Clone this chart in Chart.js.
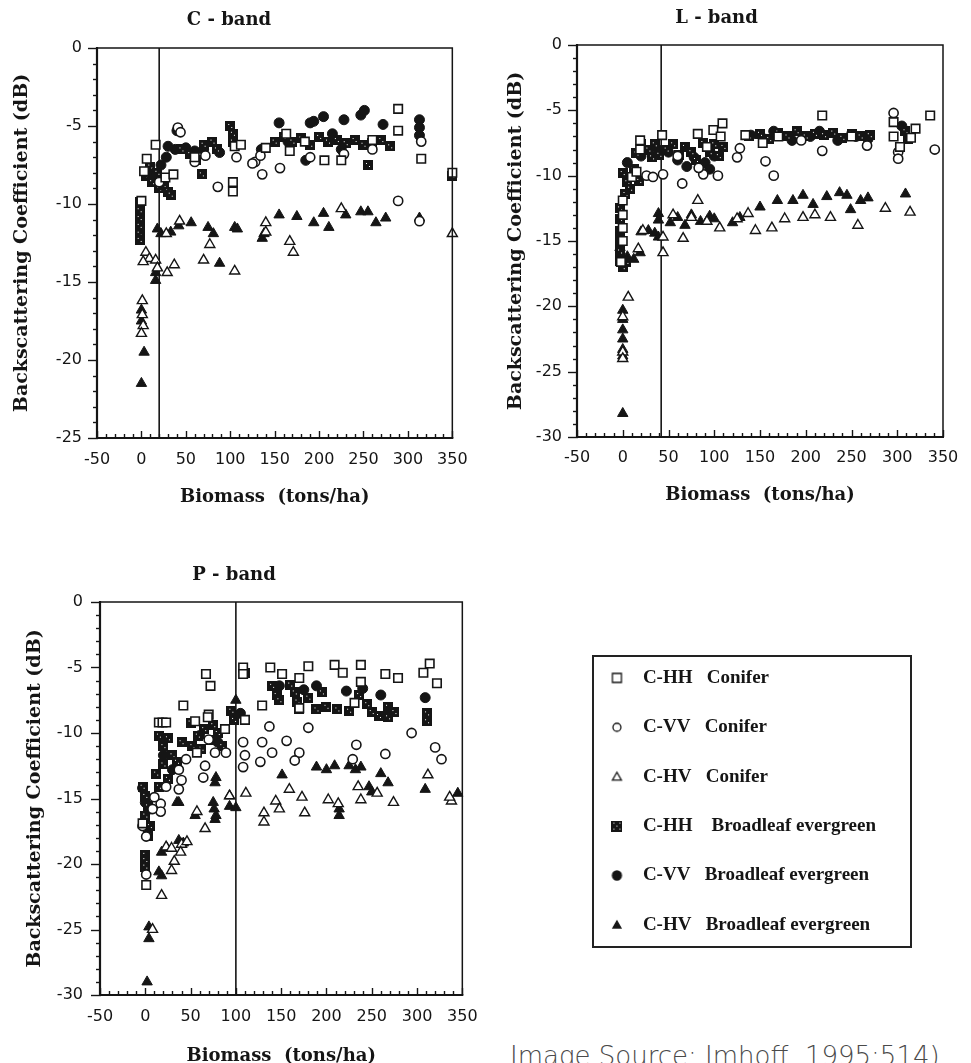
<!DOCTYPE html>
<html><head><meta charset="utf-8">
<script src="https://cdn.jsdelivr.net/npm/chart.js@4.4.1/dist/chart.umd.min.js"></script>
<style>
html,body{margin:0;padding:0;background:#fff}
body{width:971px;height:1063px;overflow:hidden;position:relative}
canvas{position:absolute;display:block}
#legendBox{position:absolute;left:592px;top:655px;width:320px;height:293px;border:2px solid #222;box-sizing:border-box}
#source{position:absolute;left:510px;top:1043px;font-family:"DejaVu Sans";font-weight:200;font-size:26px;line-height:26px;color:#4a4a4a;white-space:nowrap}
</style></head><body>
<canvas id="cBand" width="480" height="520" style="left:0;top:0"></canvas>
<canvas id="lBand" width="481" height="520" style="left:490px;top:0"></canvas>
<canvas id="pBand" width="490" height="530" style="left:0;top:545px"></canvas>
<div id="legendBox"></div>
<canvas id="legend" width="800" height="340" style="left:570px;top:638px"></canvas>
<div id="source">Image Source: Imhoff, 1995:514)</div>
<script>
const INK = '#151515';

// ---- tick labels / categories ----
const xTicks = [-50, 0, 50, 100, 150, 200, 250, 300, 350];
const yTicksC = [-25, -20, -15, -10, -5, 0];
const yTicksLP = [-30, -25, -20, -15, -10, -5, 0];
const bandTitles = ['C - band', 'L - band', 'P - band'];
const seriesLabels = ['C-HH Conifer', 'C-VV Conifer', 'C-HV Conifer', 'C-HH Broadleaf evergreen', 'C-VV Broadleaf evergreen', 'C-HV Broadleaf evergreen'];
const legendTexts = ['C-HH   Conifer', 'C-VV   Conifer', 'C-HV   Conifer', 'C-HH    Broadleaf evergreen', 'C-VV   Broadleaf evergreen', 'C-HV   Broadleaf evergreen'];
const thresholds = [20, 42, 100];

// ---- C-band series [biomass, dB] ----
const cBandHHConifer = [[6,-7.1],[16,-6.2],[3,-7.9],[27,-8.3],[36,-8.1],[0,-9.8],[103,-8.6],[103,-9.2],[105,-6.3],[112,-6.2],[163,-5.5],[167,-6.6],[206,-7.2],[225,-7.2],[289,-3.9],[289,-5.3],[315,-7.1],[350,-8.0],[140,-6.4],[60,-7.0],[184,-6.0],[260,-5.9]];
const cBandVVConifer = [[41,-5.1],[44,-5.4],[72,-6.9],[86,-8.9],[107,-7.0],[128,-7.3],[134,-6.9],[136,-8.1],[125,-7.4],[156,-7.7],[228,-6.8],[190,-7.0],[289,-9.8],[315,-6.0],[313,-11.1],[20,-8.6],[260,-6.5],[60,-7.3]];
const cBandHVConifer = [[1,-16.2],[1,-17.1],[2,-17.8],[0,-18.3],[5,-13.1],[9,-13.5],[16,-13.6],[18,-14.1],[29,-14.4],[37,-13.9],[43,-11.1],[70,-13.6],[77,-12.6],[105,-14.3],[140,-11.2],[140,-11.8],[167,-12.4],[171,-13.1],[225,-10.3],[350,-11.9],[2,-13.7],[28,-11.9]];
const cBandHHBroadleaf = [[-2,-9.9],[-2,-10.4],[-2,-10.9],[-2,-11.4],[-2,-11.9],[-2,-12.3],[5,-8.2],[10,-7.6],[12,-8.6],[18,-8.0],[20,-9.0],[25,-8.8],[30,-9.2],[33,-9.4],[45,-6.5],[55,-6.8],[62,-7.2],[70,-6.2],[80,-6.0],[85,-6.5],[68,-8.1],[100,-5.0],[103,-5.5],[103,-6.0],[150,-6.0],[160,-5.7],[170,-6.0],[180,-5.8],[190,-6.2],[200,-5.7],[210,-6.0],[220,-5.9],[230,-6.1],[240,-5.9],[250,-6.2],[260,-6.1],[270,-5.9],[280,-6.3],[255,-7.5],[350,-8.2]];
const cBandVVBroadleaf = [[8,-8.0],[15,-8.3],[22,-7.5],[28,-7.0],[40,-5.3],[38,-6.5],[50,-6.4],[60,-6.6],[70,-6.5],[88,-6.7],[135,-6.5],[155,-4.8],[190,-4.8],[194,-4.7],[205,-4.4],[228,-4.6],[247,-4.3],[251,-4.0],[272,-4.9],[313,-4.6],[313,-5.1],[313,-5.6],[165,-6.0],[215,-5.5],[185,-7.2],[225,-6.5],[30,-6.3]];
const cBandHVBroadleaf = [[0,-16.8],[0,-17.5],[3,-19.5],[0,-21.5],[16,-14.4],[16,-14.9],[18,-11.6],[22,-11.9],[33,-11.8],[42,-11.4],[56,-11.2],[75,-11.5],[81,-11.9],[88,-13.8],[105,-11.5],[108,-11.6],[136,-12.2],[138,-11.9],[155,-10.7],[175,-10.8],[194,-11.2],[205,-10.6],[211,-11.5],[230,-10.7],[247,-10.5],[255,-10.5],[264,-11.2],[275,-10.9],[313,-10.9]];

// ---- L-band series ----
const lBandHHConifer = [[0,-11.9],[0,-13.0],[0,-14.0],[0,-15.0],[-2,-16.6],[19,-7.3],[10,-10.1],[15,-9.7],[19,-8.0],[43,-6.9],[82,-6.8],[99,-6.5],[109,-6.0],[107,-7.0],[134,-6.9],[153,-7.5],[218,-5.4],[296,-5.9],[296,-7.0],[303,-7.8],[320,-6.4],[315,-7.1],[336,-5.4],[92,-7.8],[170,-7.0],[250,-7.0]];
const lBandVVConifer = [[26,-10.0],[33,-10.1],[44,-9.9],[65,-10.6],[88,-9.9],[83,-9.4],[104,-10.0],[125,-8.6],[128,-7.9],[156,-8.9],[165,-10.0],[218,-8.1],[267,-7.7],[296,-5.2],[301,-8.2],[301,-8.7],[341,-8.0],[60,-8.5],[195,-7.3]];
const lBandHVConifer = [[22,-14.2],[44,-14.7],[44,-15.9],[82,-11.9],[66,-14.8],[106,-14.0],[125,-13.3],[137,-12.9],[145,-14.2],[163,-14.0],[177,-13.3],[197,-13.2],[210,-13.0],[227,-13.2],[257,-13.8],[287,-12.5],[314,-12.8],[6,-19.3],[0,-20.8],[0,-23.5],[0,-24.0],[17,-15.6],[75,-13.2],[92,-13.5],[55,-13.0]];
const lBandHHBroadleaf = [[-3,-12.5],[-3,-13.3],[-3,-14.2],[-3,-15.0],[-3,-15.8],[-3,-16.5],[0,-17.0],[4,-16.6],[0,-9.8],[5,-10.5],[8,-11.0],[12,-9.5],[18,-10.4],[3,-11.4],[15,-8.3],[20,-7.6],[28,-8.0],[35,-7.6],[40,-8.4],[32,-8.6],[48,-8.0],[55,-7.6],[62,-8.4],[68,-7.8],[75,-8.2],[80,-8.8],[88,-7.5],[95,-8.2],[100,-7.6],[105,-8.5],[110,-7.8],[138,-7.0],[150,-6.8],[160,-7.2],[170,-6.7],[180,-7.0],[190,-6.6],[200,-7.0],[210,-6.8],[220,-6.9],[230,-6.7],[240,-7.1],[250,-6.8],[260,-7.0],[270,-6.9],[309,-6.6],[312,-7.2]];
const lBandVVBroadleaf = [[5,-9.0],[20,-8.5],[38,-8.0],[50,-8.2],[60,-8.8],[70,-9.3],[78,-8.6],[90,-9.0],[95,-9.5],[100,-8.5],[140,-6.9],[155,-7.2],[165,-6.6],[185,-7.3],[205,-7.0],[215,-6.6],[235,-7.3],[255,-7.0],[268,-7.2],[305,-6.2]];
const lBandHVBroadleaf = [[0,-20.3],[0,-21.0],[0,-21.8],[0,-22.5],[0,-23.3],[0,-23.8],[0,-28.2],[-3,-15.5],[5,-16.2],[12,-16.4],[19,-15.9],[20,-14.3],[28,-14.2],[35,-14.4],[39,-12.9],[39,-13.4],[39,-14.7],[52,-13.6],[60,-13.2],[68,-13.8],[75,-13.0],[85,-13.5],[95,-13.1],[100,-13.3],[120,-13.6],[128,-13.2],[150,-12.4],[169,-11.9],[186,-11.9],[197,-11.5],[208,-12.2],[223,-11.6],[237,-11.3],[245,-11.5],[249,-12.6],[260,-11.9],[268,-11.7],[309,-11.4]];

// ---- P-band series ----
const pBandHHConifer = [[67,-5.5],[72,-6.4],[42,-7.9],[70,-8.6],[108,-5.0],[108,-5.5],[110,-9.0],[129,-7.9],[138,-5.0],[151,-5.5],[170,-5.8],[170,-8.1],[180,-4.9],[209,-4.8],[218,-5.4],[238,-4.8],[238,-6.1],[265,-5.5],[279,-5.8],[314,-4.7],[307,-5.4],[322,-6.2],[231,-7.7],[15,-9.2],[19,-9.2],[23,-9.2],[55,-9.1],[69,-8.8],[88,-9.7],[57,-11.5],[1,-21.6],[-3,-16.9]];
const pBandVVConifer = [[137,-9.5],[180,-9.6],[156,-10.6],[129,-10.7],[140,-11.5],[127,-12.2],[170,-11.5],[165,-12.1],[233,-10.9],[229,-12.0],[265,-11.6],[294,-10.0],[320,-11.1],[327,-12.0],[108,-10.7],[110,-11.7],[108,-12.6],[66,-12.5],[64,-13.4],[77,-11.5],[89,-11.5],[70,-10.5],[37,-14.3],[40,-13.6],[37,-12.8],[45,-12.0],[17,-15.4],[17,-16.0],[10,-14.9],[23,-14.1],[-3,-17.1],[1,-17.9],[1,-20.8],[8,-15.8]];
const pBandHVConifer = [[111,-14.6],[93,-14.8],[159,-14.3],[144,-15.2],[148,-15.8],[131,-16.1],[131,-16.8],[57,-16.0],[66,-17.3],[173,-14.9],[176,-16.1],[202,-15.1],[213,-15.4],[238,-15.1],[235,-14.1],[256,-14.6],[274,-15.3],[338,-15.2],[312,-13.2],[23,-18.7],[29,-18.8],[40,-18.5],[46,-18.3],[39,-19.1],[32,-19.8],[29,-20.5],[18,-22.4],[8,-25.0],[336,-14.9]];
const pBandHHBroadleaf = [[-3,-14.1],[0,-14.8],[3,-15.6],[0,-16.3],[5,-17.1],[3,-17.9],[0,-19.3],[0,-19.7],[0,-20.2],[15,-10.2],[20,-11.0],[25,-10.4],[30,-11.7],[20,-12.4],[12,-13.1],[25,-13.5],[35,-12.2],[40,-10.7],[15,-14.1],[50,-9.2],[58,-10.2],[65,-9.7],[72,-10.5],[80,-10.0],[85,-11.0],[62,-11.2],[52,-11.0],[75,-9.4],[95,-8.3],[98,-9.0],[140,-6.4],[145,-7.1],[148,-7.5],[165,-6.9],[168,-7.6],[170,-8.2],[180,-7.3],[189,-8.2],[200,-8.0],[212,-8.2],[225,-8.3],[236,-7.1],[245,-7.8],[250,-8.4],[258,-8.7],[268,-8.8],[268,-8.0],[275,-8.4],[311,-8.5],[311,-9.1],[110,-5.4],[160,-6.3],[195,-6.9]];
const pBandVVBroadleaf = [[189,-6.4],[222,-6.8],[309,-7.3],[148,-6.4],[-3,-14.2],[0,-15.3],[5,-15.8],[20,-11.7],[30,-12.8],[60,-10.2],[80,-10.7],[105,-8.5],[240,-6.6],[260,-7.1],[175,-6.7]];
const pBandHVBroadleaf = [[151,-13.2],[189,-12.6],[200,-12.8],[209,-12.5],[225,-12.5],[232,-12.8],[238,-12.6],[260,-13.1],[268,-13.8],[247,-14.1],[250,-14.5],[309,-14.3],[345,-14.6],[78,-13.4],[77,-13.8],[35,-15.3],[75,-15.3],[76,-15.8],[78,-16.3],[77,-16.6],[55,-16.3],[93,-14.8],[93,-15.6],[100,-15.7],[214,-15.8],[214,-16.3],[37,-15.3],[18,-19.1],[24,-18.8],[15,-20.6],[18,-20.9],[37,-18.2],[42,-18.4],[4,-24.8],[4,-25.7],[2,-29.0],[100,-7.5]];

// ---- marker images ----
function hatchIcon(size, dots) {
  const c = document.createElement('canvas'); c.width = c.height = size;
  const g = c.getContext('2d');
  g.fillStyle = INK; g.fillRect(0, 0, size, size);
  g.fillStyle = '#fff';
  dots.forEach(([a, b]) => g.fillRect(Math.round(a * size), Math.round(b * size), 1, 1));
  return c;
}
function icon(kind, size, filled) {
  const c = document.createElement('canvas'); c.width = c.height = size + 4;
  const g = c.getContext('2d'); const m = c.width / 2; const r = size / 2;
  g.lineWidth = 1.3; g.strokeStyle = INK; g.fillStyle = filled ? INK : '#fff';
  g.beginPath();
  if (kind === 'square') g.rect(m - r, m - r, size, size);
  else if (kind === 'circle') g.arc(m, m, r, 0, Math.PI * 2);
  else { g.moveTo(m, m - r); g.lineTo(m + r, m + r * 0.75); g.lineTo(m - r, m + r * 0.75); g.closePath(); }
  g.fill(); g.stroke();
  return c;
}

const markerStyles = [
  {pointStyle: 'rect', pointRadius: 6, pointBackgroundColor: '#fff', pointBorderColor: INK, pointBorderWidth: 1.6},
  {pointStyle: 'circle', pointRadius: 4.6, pointBackgroundColor: '#fff', pointBorderColor: INK, pointBorderWidth: 1.6},
  {pointStyle: 'triangle', pointRadius: 5.8, pointBackgroundColor: '#fff', pointBorderColor: INK, pointBorderWidth: 1.4},
  {pointStyle: hatchIcon(10, [[0.3,0.3],[0.6,0.6]]), pointRadius: 5},
  {pointStyle: 'circle', pointRadius: 5, pointBackgroundColor: INK, pointBorderColor: INK, pointBorderWidth: 1},
  {pointStyle: 'triangle', pointRadius: 6, pointBackgroundColor: INK, pointBorderColor: INK, pointBorderWidth: 1}
];

const axisDeco = {
  id: 'axisDeco',
  beforeDatasetsDraw(chart, _a, o) {
    const {ctx, chartArea: a, scales: {x}} = chart;
    const xv = x.getPixelForValue(o.vline);
    ctx.save(); ctx.strokeStyle = INK; ctx.lineWidth = 1.6;
    ctx.beginPath(); ctx.moveTo(xv, a.top); ctx.lineTo(xv, a.bottom); ctx.stroke();
    ctx.restore();
  },
  afterDatasetsDraw(chart, _a, o) {
    const {ctx, chartArea: a, scales: {x, y}} = chart;
    ctx.save(); ctx.strokeStyle = INK;
    ctx.lineWidth = 1.5;
    ctx.beginPath(); ctx.moveTo(a.left, a.top); ctx.lineTo(a.right, a.top); ctx.lineTo(a.right, a.bottom); ctx.stroke();
    ctx.lineWidth = 2.2;
    ctx.beginPath(); ctx.moveTo(a.left, a.top - 1); ctx.lineTo(a.left, a.bottom); ctx.lineTo(a.right + 1, a.bottom); ctx.stroke();
    ctx.lineWidth = 1.4;
    for (let v = y.min; v <= y.max + 1e-9; v += o.yMinor) {
      const py = Math.round(y.getPixelForValue(v)) + 0.5;
      const major = Math.abs(v % o.yMajor) < 1e-6;
      ctx.beginPath(); ctx.moveTo(a.left - (major ? 9 : 4), py); ctx.lineTo(a.left + 1, py); ctx.stroke();
    }
    for (let v = x.min; v <= x.max + 1e-9; v += o.xMinor) {
      const px = Math.round(x.getPixelForValue(v)) + 0.5;
      const major = Math.abs(v % o.xMajor) < 1e-6;
      ctx.beginPath(); ctx.moveTo(px, a.bottom); ctx.lineTo(px, a.bottom - (major ? 7 : 4)); ctx.stroke();
    }
    ctx.restore();
  }
};

function bandChart(id, idx, series, yTicks, L) {
  return new Chart(document.getElementById(id), {
    type: 'scatter',
    data: {
      datasets: series.map((s, i) => Object.assign({
        label: seriesLabels[i],
        data: s.map(([x, y]) => ({x, y})),
        clip: false
      }, markerStyles[i], {pointHoverRadius: markerStyles[i].pointRadius}))
    },
    options: {
      responsive: false, animation: false, devicePixelRatio: 1, events: [],
      layout: {padding: {left: 0, right: L.right, top: 0, bottom: 0}},
      scales: {
        x: {
          type: 'linear', min: xTicks[0], max: xTicks[xTicks.length - 1],
          afterBuildTicks: s => { s.ticks = xTicks.map(v => ({value: v})); },
          afterFit: s => { s.height = L.xHeight; },
          grid: {display: false, drawTicks: false}, border: {display: false},
          ticks: {padding: L.xTickPad, color: INK, font: {family: 'DejaVu Sans', size: 16}, maxRotation: 0, autoSkip: false, callback: v => String(v)},
          title: {display: true, text: 'Biomass  (tons/ha)', color: INK, font: {family: 'DejaVu Serif', weight: 'bold', size: 18}, padding: {top: 0, bottom: L.xTitlePad}}
        },
        y: {
          type: 'linear', min: yTicks[0], max: yTicks[yTicks.length - 1],
          afterBuildTicks: s => { s.ticks = yTicks.map(v => ({value: v})); },
          afterFit: s => { s.width = L.yWidth; },
          grid: {display: false, drawTicks: false}, border: {display: false},
          ticks: {padding: L.yTickPad, color: INK, font: {family: 'DejaVu Sans', size: 16}, autoSkip: false, callback: v => String(v)},
          title: {display: true, text: 'Backscattering Coefficient (dB)', color: INK, font: {family: 'DejaVu Serif', weight: 'bold', size: 19}, padding: {top: L.yTitlePad, bottom: 0}}
        }
      },
      plugins: {
        legend: {display: false}, tooltip: {enabled: false},
        title: {display: true, text: bandTitles[idx], color: INK, font: {family: 'DejaVu Serif', weight: 'bold', size: 18}, padding: L.titlePad},
        axisDeco: {vline: thresholds[idx], yMinor: 1, yMajor: 5, xMinor: 10, xMajor: 50}
      }
    },
    plugins: [axisDeco]
  });
}

bandChart('cBand', 0, [cBandHHConifer, cBandVVConifer, cBandHVConifer, cBandHHBroadleaf, cBandVVBroadleaf, cBandHVBroadleaf], yTicksC,
  {titlePad: {top: 9.2, bottom: 17.2}, yWidth: 97, yTitlePad: 10.6, yTickPad: 15, xHeight: 82, xTickPad: 12.4, xTitlePad: 12.2, right: 22});
bandChart('lBand', 1, [lBandHHConifer, lBandVVConifer, lBandHVConifer, lBandHHBroadleaf, lBandVVBroadleaf, lBandHVBroadleaf], yTicksLP,
  {titlePad: {top: 7.2, bottom: 16.2}, yWidth: 87, yTitlePad: 14.6, yTickPad: 15, xHeight: 83, xTickPad: 11.4, xTitlePad: 14.2, right: 28});
bandChart('pBand', 2, [pBandHHConifer, pBandVVConifer, pBandHVConifer, pBandHHBroadleaf, pBandVVBroadleaf, pBandHVBroadleaf], yTicksLP,
  {titlePad: {top: 19.2, bottom: 16.2}, yWidth: 100, yTitlePad: 23.6, yTickPad: 17, xHeight: 80, xTickPad: 12.4, xTitlePad: 8.2, right: 22});

const legendIcons = [icon('square', 9, false), icon('circle', 8, false), icon('triangle', 9, false),
  hatchIcon(11, [[0.2,0.2],[0.7,0.2],[0.45,0.45],[0.2,0.7],[0.7,0.7]]), icon('circle', 9, true), icon('triangle', 8, true)];

new Chart(document.getElementById('legend'), {
  type: 'scatter',
  data: {datasets: seriesLabels.map(l => ({label: l, data: []}))},
  options: {
    responsive: false, animation: false, devicePixelRatio: 1, events: [],
    layout: {padding: 0},
    scales: {x: {display: false}, y: {display: false}},
    plugins: {
      tooltip: {enabled: false},
      legend: {
        position: 'left', align: 'start', maxWidth: 700,
        labels: {
          usePointStyle: true, pointStyleWidth: 33, padding: 30.4, color: INK,
          font: {family: 'Liberation Serif', weight: 'bold', size: 19},
          generateLabels: () => legendTexts.map((t, i) => ({text: t, pointStyle: legendIcons[i], fillStyle: INK, strokeStyle: INK, lineWidth: 0, hidden: false, datasetIndex: i, fontColor: INK}))
        }
      }
    }
  }
});
</script>
</body></html>
